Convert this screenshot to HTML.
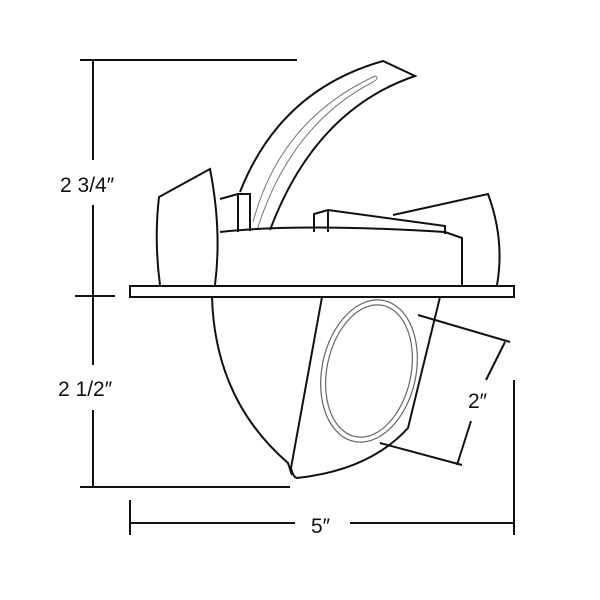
<!DOCTYPE html>
<html><head><style>body{margin:0;background:#fff}svg{display:block}text{font-family:"Liberation Sans",sans-serif;font-size:21px;fill:#111}</style></head><body>
<svg width="600" height="600" viewBox="0 0 600 600" fill="none" stroke="#111" stroke-width="2">
<line x1="80" y1="60" x2="297" y2="60"/>
<line x1="93" y1="60" x2="93" y2="160"/>
<line x1="93" y1="205" x2="93" y2="365"/>
<line x1="93" y1="410" x2="93" y2="487"/>
<line x1="75" y1="296" x2="115" y2="296"/>
<line x1="80" y1="487" x2="290" y2="487"/>
<line x1="130" y1="500" x2="130" y2="535"/>
<line x1="514" y1="380" x2="514" y2="535"/>
<line x1="130" y1="523" x2="295" y2="523"/>
<line x1="350" y1="523" x2="514" y2="523"/>
<text x="60" y="192" stroke="none">2 3/4″</text>
<text x="58" y="396" stroke="none">2 1/2″</text>
<text x="311" y="533" stroke="none">5″</text>
<text x="468" y="408" stroke="none">2″</text>
<path d="M160 285 Q154 240 159 197 L210 169 Q222 230 215 285"/>
<path d="M240 192 Q280 90 383 61 L415 76 Q315 110 270 230"/>
<path d="M253 222 Q280 120 375 76 Q380 78 373 82 Q290 125 257 230" stroke="#777" stroke-width="1"/>
<path d="M220 199 L238 194 L250 194 L250 231 M238 194 L238 232"/>
<path d="M220 232 Q300 223 445 232 L462 238 L462 286"/>
<path d="M314 232 L314 214 L328 210 L445 226 L445 234 M328 210 L328 232"/>
<path d="M393 215 L488 194 Q505 240 497 285"/>
<rect x="130" y="286" width="384" height="11" fill="#fff"/>
<path d="M212 297 Q215 400 288 463 L292 475"/>
<path d="M322 297 L291 468 Q293 477 297 478 Q370 470 408 428 L440 297"/>
<ellipse cx="369" cy="371" rx="47" ry="72" transform="rotate(12 369 371)" stroke="#666" stroke-width="1.2"/>
<ellipse cx="369" cy="371" rx="42" ry="67" transform="rotate(12 369 371)" stroke="#666" stroke-width="1.2"/>
<line x1="418" y1="315" x2="510" y2="342"/>
<line x1="380" y1="443" x2="462" y2="465"/>
<line x1="505" y1="342" x2="486" y2="380"/>
<line x1="471" y1="421" x2="457" y2="465"/>
</svg>
</body></html>
